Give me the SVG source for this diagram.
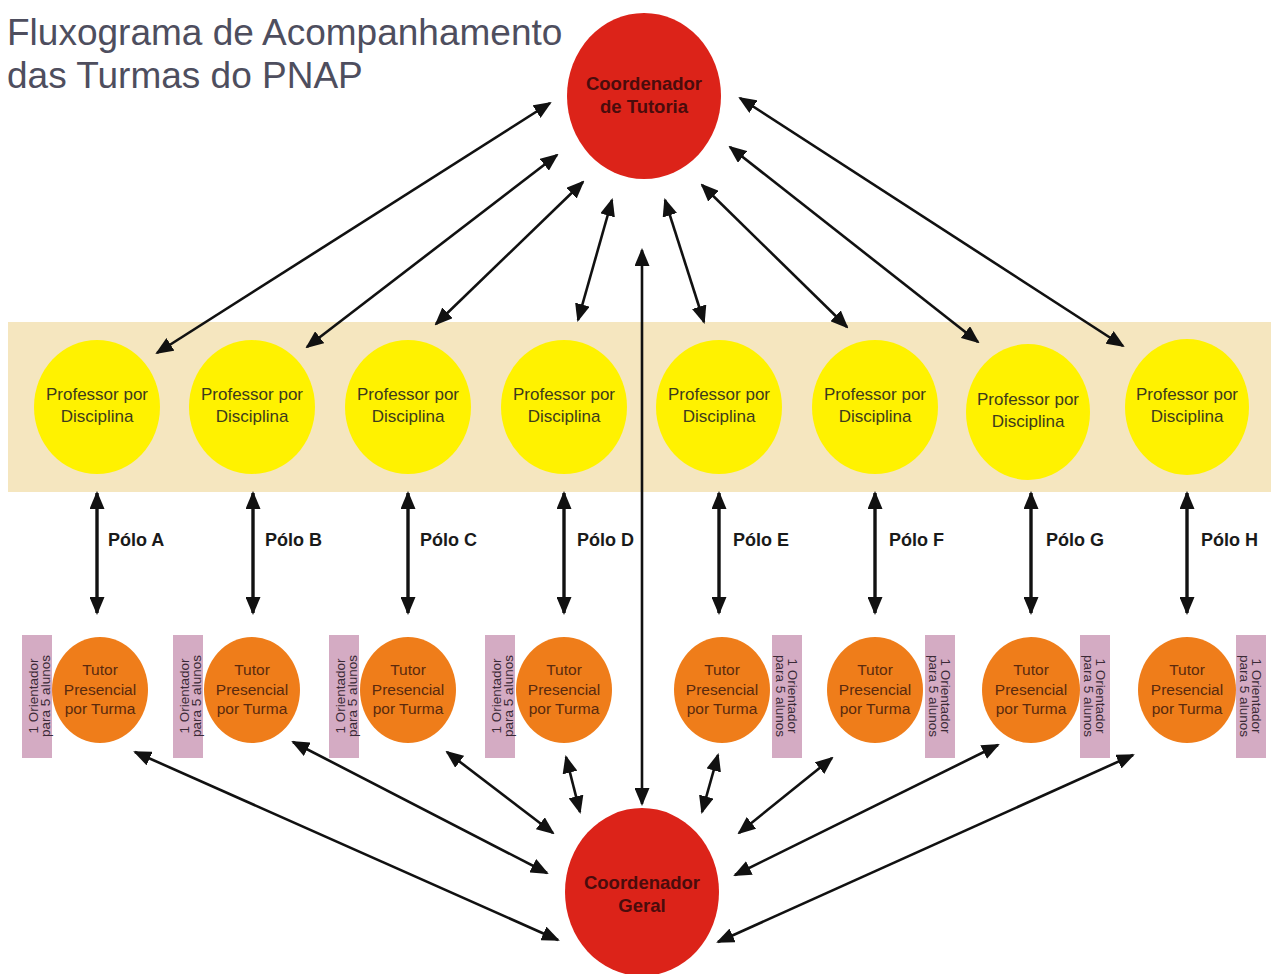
<svg xmlns="http://www.w3.org/2000/svg" width="1271" height="974" viewBox="0 0 1271 974">
<defs>
<marker id="ah" viewBox="0 0 18 15" refX="16" refY="7.5" markerWidth="18" markerHeight="15" markerUnits="userSpaceOnUse" orient="auto-start-reverse">
<path d="M0,0 L18,7.5 L0,15 z" fill="#111"/>
</marker>
<style>
.title{font-family:"Liberation Sans",Arial,sans-serif;font-size:37px;fill:#4e4e5e}
.red{fill:#dc2319}
.yel{fill:#fff200}
.org{fill:#ef7d1a}
.pink{fill:#d4abc3}
.tred{font-family:"Liberation Sans",Arial,sans-serif;font-size:18.5px;font-weight:bold;fill:#4a0c0c;text-anchor:middle}
.tyel{font-family:"Liberation Sans",Arial,sans-serif;font-size:17px;fill:#3e3b1c;text-anchor:middle}
.torg{font-family:"Liberation Sans",Arial,sans-serif;font-size:15.5px;fill:#5a2a0e;text-anchor:middle}
.tpink{font-family:"Liberation Sans",Arial,sans-serif;font-size:13.5px;fill:#3a2a36;text-anchor:middle}
.tpolo{font-family:"Liberation Sans",Arial,sans-serif;font-size:18px;font-weight:bold;fill:#1a1a1a}
.c{stroke:#111;stroke-width:2.6;fill:none;marker-start:url(#ah);marker-end:url(#ah)}
.v{stroke:#111;stroke-width:3.4;fill:none;marker-start:url(#ah);marker-end:url(#ah)}
</style>
</defs>
<rect width="1271" height="974" fill="#ffffff"/>
<g id="title">
<text class="title" x="7" y="45">Fluxograma de Acompanhamento</text>
<text class="title" x="7" y="88">das Turmas do PNAP</text>
</g>
<rect id="band" x="8" y="322" width="1263" height="170" fill="#f5e6bf"/>
<g id="coord-tutoria">
<ellipse class="red" cx="644" cy="96" rx="77" ry="83"/>
<text class="tred" x="644" y="90">Coordenador</text>
<text class="tred" x="644" y="113">de Tutoria</text>
</g>
<g id="coord-geral">
<ellipse class="red" cx="642" cy="892" rx="77" ry="84"/>
<text class="tred" x="642" y="889">Coordenador</text>
<text class="tred" x="642" y="912">Geral</text>
</g>
<g id="prof-a"><ellipse class="yel" cx="97" cy="407" rx="63" ry="67"/><text class="tyel" x="97" y="400">Professor por</text><text class="tyel" x="97" y="422">Disciplina</text></g>
<g id="prof-b"><ellipse class="yel" cx="252" cy="407" rx="63" ry="67"/><text class="tyel" x="252" y="400">Professor por</text><text class="tyel" x="252" y="422">Disciplina</text></g>
<g id="prof-c"><ellipse class="yel" cx="408" cy="407" rx="63" ry="67"/><text class="tyel" x="408" y="400">Professor por</text><text class="tyel" x="408" y="422">Disciplina</text></g>
<g id="prof-d"><ellipse class="yel" cx="564" cy="407" rx="63" ry="67"/><text class="tyel" x="564" y="400">Professor por</text><text class="tyel" x="564" y="422">Disciplina</text></g>
<g id="prof-e"><ellipse class="yel" cx="719" cy="407" rx="63" ry="67"/><text class="tyel" x="719" y="400">Professor por</text><text class="tyel" x="719" y="422">Disciplina</text></g>
<g id="prof-f"><ellipse class="yel" cx="875" cy="407" rx="63" ry="67"/><text class="tyel" x="875" y="400">Professor por</text><text class="tyel" x="875" y="422">Disciplina</text></g>
<g id="prof-g"><ellipse class="yel" cx="1028" cy="412" rx="62" ry="68"/><text class="tyel" x="1028" y="405">Professor por</text><text class="tyel" x="1028" y="427">Disciplina</text></g>
<g id="prof-h"><ellipse class="yel" cx="1187" cy="407" rx="62" ry="68"/><text class="tyel" x="1187" y="400">Professor por</text><text class="tyel" x="1187" y="422">Disciplina</text></g>
<g id="tutor-a"><ellipse class="org" cx="100" cy="690" rx="48" ry="53"/><text class="torg" x="100" y="675">Tutor</text><text class="torg" x="100" y="695">Presencial</text><text class="torg" x="100" y="714">por Turma</text>
<rect class="pink" x="22" y="635" width="30" height="123"/><g transform="translate(37,696) rotate(-90)"><text class="tpink" x="0" y="1">1 Orientador</text><text class="tpink" x="0" y="13">para 5 alunos</text></g></g>
<g id="tutor-b"><ellipse class="org" cx="252" cy="690" rx="48" ry="53"/><text class="torg" x="252" y="675">Tutor</text><text class="torg" x="252" y="695">Presencial</text><text class="torg" x="252" y="714">por Turma</text>
<rect class="pink" x="173" y="635" width="30" height="123"/><g transform="translate(188,696) rotate(-90)"><text class="tpink" x="0" y="1">1 Orientador</text><text class="tpink" x="0" y="13">para 5 alunos</text></g></g>
<g id="tutor-c"><ellipse class="org" cx="408" cy="690" rx="48" ry="53"/><text class="torg" x="408" y="675">Tutor</text><text class="torg" x="408" y="695">Presencial</text><text class="torg" x="408" y="714">por Turma</text>
<rect class="pink" x="329" y="635" width="30" height="123"/><g transform="translate(344,696) rotate(-90)"><text class="tpink" x="0" y="1">1 Orientador</text><text class="tpink" x="0" y="13">para 5 alunos</text></g></g>
<g id="tutor-d"><ellipse class="org" cx="564" cy="690" rx="48" ry="53"/><text class="torg" x="564" y="675">Tutor</text><text class="torg" x="564" y="695">Presencial</text><text class="torg" x="564" y="714">por Turma</text>
<rect class="pink" x="485" y="635" width="30" height="123"/><g transform="translate(500,696) rotate(-90)"><text class="tpink" x="0" y="1">1 Orientador</text><text class="tpink" x="0" y="13">para 5 alunos</text></g></g>
<g id="tutor-e"><ellipse class="org" cx="722" cy="690" rx="48" ry="53"/><text class="torg" x="722" y="675">Tutor</text><text class="torg" x="722" y="695">Presencial</text><text class="torg" x="722" y="714">por Turma</text>
<rect class="pink" x="772" y="635" width="30" height="123"/><g transform="translate(787,696) rotate(90)"><text class="tpink" x="0" y="-1">1 Orientador</text><text class="tpink" x="0" y="11">para 5 alunos</text></g></g>
<g id="tutor-f"><ellipse class="org" cx="875" cy="690" rx="48" ry="53"/><text class="torg" x="875" y="675">Tutor</text><text class="torg" x="875" y="695">Presencial</text><text class="torg" x="875" y="714">por Turma</text>
<rect class="pink" x="925" y="635" width="30" height="123"/><g transform="translate(940,696) rotate(90)"><text class="tpink" x="0" y="-1">1 Orientador</text><text class="tpink" x="0" y="11">para 5 alunos</text></g></g>
<g id="tutor-g"><ellipse class="org" cx="1031" cy="690" rx="49" ry="53"/><text class="torg" x="1031" y="675">Tutor</text><text class="torg" x="1031" y="695">Presencial</text><text class="torg" x="1031" y="714">por Turma</text>
<rect class="pink" x="1080" y="635" width="30" height="123"/><g transform="translate(1095,696) rotate(90)"><text class="tpink" x="0" y="-1">1 Orientador</text><text class="tpink" x="0" y="11">para 5 alunos</text></g></g>
<g id="tutor-h"><ellipse class="org" cx="1187" cy="690" rx="49" ry="53"/><text class="torg" x="1187" y="675">Tutor</text><text class="torg" x="1187" y="695">Presencial</text><text class="torg" x="1187" y="714">por Turma</text>
<rect class="pink" x="1236" y="635" width="30" height="123"/><g transform="translate(1251,696) rotate(90)"><text class="tpink" x="0" y="-1">1 Orientador</text><text class="tpink" x="0" y="11">para 5 alunos</text></g></g>
<g id="polo-labels">
<text class="tpolo" x="108" y="546">Pólo A</text>
<text class="tpolo" x="265" y="546">Pólo B</text>
<text class="tpolo" x="420" y="546">Pólo C</text>
<text class="tpolo" x="577" y="546">Pólo D</text>
<text class="tpolo" x="733" y="546">Pólo E</text>
<text class="tpolo" x="889" y="546">Pólo F</text>
<text class="tpolo" x="1046" y="546">Pólo G</text>
<text class="tpolo" x="1201" y="546">Pólo H</text>
</g>
<g id="connectors">
<line class="c" x1="550" y1="103" x2="157" y2="353"/>
<line class="c" x1="557" y1="155" x2="307" y2="347"/>
<line class="c" x1="583" y1="182" x2="436" y2="324"/>
<line class="c" x1="612" y1="200" x2="578" y2="320"/>
<line class="c" x1="665" y1="200" x2="704" y2="322"/>
<line class="c" x1="702" y1="185" x2="847" y2="327"/>
<line class="c" x1="730" y1="147" x2="978" y2="342"/>
<line class="c" x1="740" y1="98" x2="1123" y2="346"/>
<line class="c" x1="642" y1="250" x2="642" y2="804"/>
<line class="v" x1="97" y1="493" x2="97" y2="613"/>
<line class="v" x1="253" y1="493" x2="253" y2="613"/>
<line class="v" x1="408" y1="493" x2="408" y2="613"/>
<line class="v" x1="564" y1="493" x2="564" y2="613"/>
<line class="v" x1="719" y1="493" x2="719" y2="613"/>
<line class="v" x1="875" y1="493" x2="875" y2="613"/>
<line class="v" x1="1031" y1="493" x2="1031" y2="613"/>
<line class="v" x1="1187" y1="493" x2="1187" y2="613"/>
<line class="c" x1="135" y1="752" x2="558" y2="940"/>
<line class="c" x1="293" y1="742" x2="547" y2="873"/>
<line class="c" x1="447" y1="752" x2="553" y2="833"/>
<line class="c" x1="566" y1="757" x2="580" y2="812"/>
<line class="c" x1="718" y1="755" x2="702" y2="812"/>
<line class="c" x1="832" y1="758" x2="739" y2="833"/>
<line class="c" x1="998" y1="745" x2="735" y2="875"/>
<line class="c" x1="1133" y1="755" x2="718" y2="942"/>
</g>
</svg>
